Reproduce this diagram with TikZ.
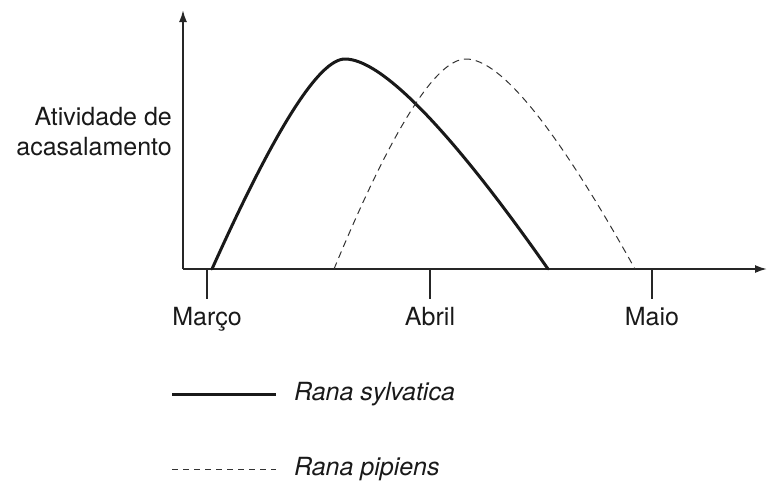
\documentclass[tikz,border=0pt]{standalone}
\usepackage{fontspec}
\setmainfont{TeX Gyre Heros}
\usetikzlibrary{arrows.meta, positioning}

\begin{document}
\begin{tikzpicture}[x=1pt, y=-1pt,
		axis/.style={line width=1.8pt, draw=black!85},
		tick/.style={line width=1.8pt, draw=black!85},
		solidcurve/.style={line width=3pt, draw=black!90, line cap=round},
		dashcurve/.style={line width=1pt, draw=black!80, dash pattern=on 7pt off 5pt}
	]
	\tikzstyle{Label} = [ %text of axes and legend
		inner sep=0pt,
		text=black!90,
		font=\fontsize{25}{30}\selectfont
	]
	\useasboundingbox (0,0) rectangle (767,483);

	% axes
	\coordinate (O) at (183,269);
	\coordinate (ytop) at (183,10);
	\coordinate (xend) at (767,269);
	\draw[axis, -{Latex[length=12pt, width=8pt]}] (O) -- (ytop);
	\draw[axis, -{Latex[length=12pt, width=8pt]}] (O) -- (xend);

	% ticks and months
	\coordinate (m1) at (207,269);
	\coordinate (m1b) at (207,299);
	\coordinate (m2) at (430,269);
	\coordinate (m2b) at (430,299);
	\coordinate (m3) at (652,269);
	\coordinate (m3b) at (652,299);
	\draw[tick] (m1) -- (m1b);
	\draw[tick] (m2) -- (m2b);
	\draw[tick] (m3) -- (m3b);
	\node (marco) [Label, below = 8pt of m1b] {Março};
	\node (abril) [Label, below = 8pt of m2b] {Abril};
	\node (maio) [Label, below = 8pt of m3b] {Maio};

	\node (ylab) [Label, align=right, anchor=east] at (172,132) {Atividade de\\acasalamento};

	% Rana sylvatica
	\coordinate (s0) at (212,269);
	\coordinate (s1) at (345,59);
	\coordinate (s2) at (548,269);
	\draw[solidcurve] (s0) .. controls (275,129) and (319,59) .. (s1)
		.. controls (382,59) and (452,132) .. (s2);

	% Rana pipiens
	\coordinate (p0) at (334,269);
	\coordinate (p1) at (466,59);
	\coordinate (p2) at (635,269);
	\draw[dashcurve] (p0) .. controls (392,129) and (436,59) .. (p1)
		.. controls (501,59) and (557,129) .. (p2);

	% legend
	\coordinate (l1a) at (172,394);
	\coordinate (l1b) at (276,394);
	\coordinate (l2a) at (172,469);
	\coordinate (l2b) at (276,469);
	\draw[solidcurve, line cap=butt] (l1a) -- (l1b);
	\draw[line width=1pt, draw=black!80, dash pattern=on 6pt off 5pt] (l2a) -- (l2b);
	\node (lsyl) [Label, right = 18pt of l1b] {\itshape Rana sylvatica};
	\node (lpip) [Label, right = 18pt of l2b] {\itshape Rana pipiens};
\end{tikzpicture}
\end{document}
